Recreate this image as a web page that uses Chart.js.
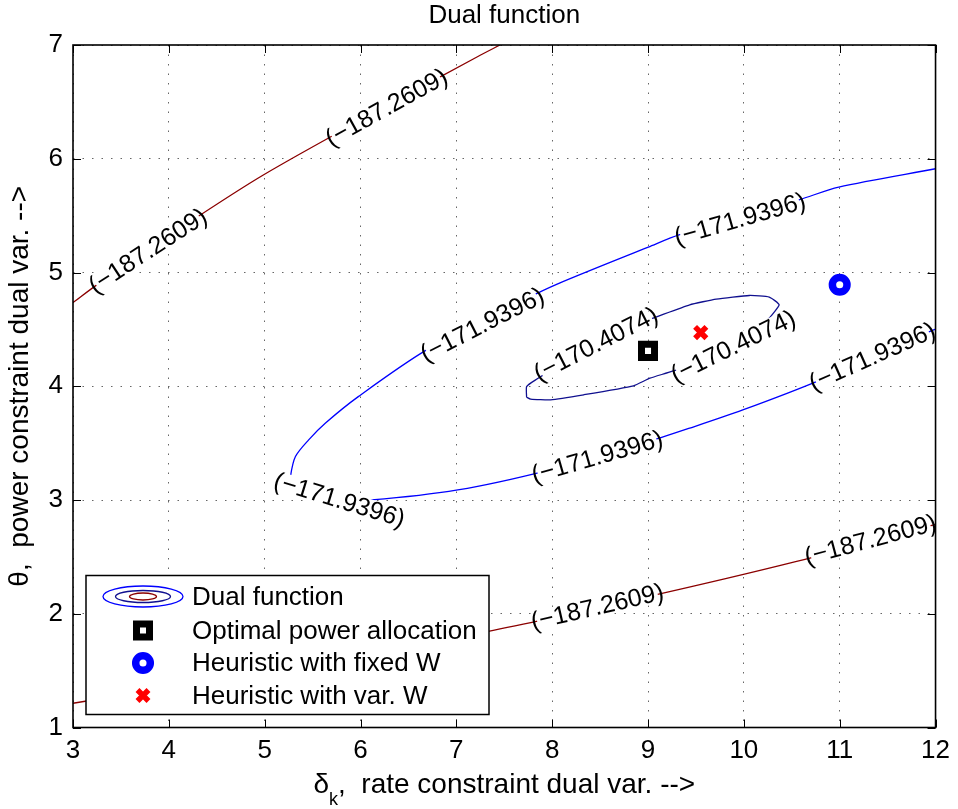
<!DOCTYPE html>
<html>
<head>
<meta charset="utf-8">
<title>Dual function</title>
<script src="https://cdn.jsdelivr.net/npm/chart.js@4.4.0/dist/chart.umd.min.js"></script>
<style>
body{margin:0;background:#fff;}
#wrap{width:958px;height:809px;}
</style>
</head>
<body>
<div id="wrap"><canvas id="dualChart" width="958" height="809"></canvas></div>
<script>
const FONT = '"Liberation Sans", Arial, Helvetica, sans-serif';

const xTicks = [3, 4, 5, 6, 7, 8, 9, 10, 11, 12];
const yTicks = [1, 2, 3, 4, 5, 6, 7];

/* contour level -187.2609 : upper and lower branch */
const upperX = [3.00, 3.26, 4.11, 4.99, 6.26, 7.22, 7.46];
const upperY = [4.736, 4.898, 5.384, 5.859, 6.457, 6.897, 7.002];
const lowerX = [3.00, 5.15, 7.32, 8.985, 10.54, 12.0];
const lowerY = [1.213, 1.515, 1.843, 2.148, 2.458, 2.785];

/* contour level -171.9396 (open curve, both ends on the right border) */
const outerX = [12.00, 10.99, 10.576, 9.331, 9.003, 8.052, 7.706, 6.703, 5.977, 5.632, 5.459, 5.321, 5.269, 5.272, 5.407, 5.666, 6.115, 7.015, 7.948, 8.951, 9.435, 9.989, 10.783, 11.648, 12.00];
const outerY = [5.912, 5.751, 5.639, 5.332, 5.223, 4.898, 4.760, 4.326, 3.909, 3.675, 3.529, 3.382, 3.206, 3.115, 3.027, 2.996, 3.001, 3.089, 3.259, 3.500, 3.632, 3.792, 4.050, 4.379, 4.502];

/* contour level -170.4074 (closed) */
const innerX = [7.733, 7.733, 7.827, 8.674, 9.020, 9.435, 9.712, 10.057, 10.265, 10.368, 10.265, 10.127, 9.349, 9.020, 8.848, 8.329, 7.983, 7.775, 7.733];
const innerY = [3.904, 3.997, 4.056, 4.496, 4.590, 4.716, 4.766, 4.798, 4.784, 4.716, 4.599, 4.496, 4.159, 4.071, 4.004, 3.925, 3.881, 3.887, 3.904];

/* markers */
const optimalPt = [9.0, 4.311];
const fixedWPt = [11.0, 4.892];
const varWPt = [9.55, 4.472];

/* contour labels */
const levelText = ['(\u2212187.2609)', '(\u2212171.9396)', '(\u2212170.4074)'];
const labelX = [3.78, 6.27, 8.47, 11.32, 9.96, 7.27, 5.78, 8.47, 11.34, 8.456, 9.888];
const labelY = [5.19, 6.45, 2.06, 2.65, 5.47, 4.54, 3.00, 3.38, 4.26, 4.37, 4.35];
const labelAngle = [-33, -29, -13, -15, -16, -27, 17, -16, -24, -27, -26];
const labelLevel = [0, 0, 0, 0, 1, 1, 1, 1, 1, 2, 2];

const xTitleParts = ['\u03b4', 'k', ',  rate constraint dual var. -->'];

function pts(xs, ys) {
  return xs.map((x, i) => ({x: x, y: ys[i]}));
}

const BROWN = '#8B0000';
const BLUE = '#0000FF';
const NAVY = '#10108F';

/* draw contour labels right after the contour lines, before markers */
const contourLabels = {
  id: 'contourLabels',
  afterDatasetDraw(chart, args) {
    if (args.index !== 3) return;
    const ctx = chart.ctx, a = chart.chartArea;
    const xs = chart.scales.x, ys = chart.scales.y;
    ctx.save();
    ctx.beginPath();
    ctx.rect(a.left, a.top, a.right - a.left, a.bottom - a.top);
    ctx.clip();
    ctx.font = '25px ' + FONT;
    labelX.forEach((lx, i) => {
      const px = xs.getPixelForValue(lx);
      const py = ys.getPixelForValue(labelY[i]);
      const txt = levelText[labelLevel[i]];
      const w = ctx.measureText(txt).width;
      ctx.save();
      ctx.translate(px, py);
      ctx.rotate(labelAngle[i] * Math.PI / 180);
      ctx.fillStyle = '#fff';
      ctx.fillRect(-w / 2 + 6, -10, w - 12, 20);
      ctx.fillStyle = '#000';
      ctx.textAlign = 'center';
      ctx.textBaseline = 'middle';
      ctx.fillText(txt, 0, 1);
      ctx.restore();
    });
    ctx.restore();
  }
};

/* box around axes with inward ticks */
const axesBox = {
  id: 'axesBox',
  afterDraw(chart) {
    const ctx = chart.ctx, a = chart.chartArea;
    const xs = chart.scales.x, ys = chart.scales.y;
    ctx.save();
    ctx.strokeStyle = '#000';
    ctx.lineWidth = 1;
    ctx.beginPath();
    xTicks.forEach(t => {
      const p = Math.round(xs.getPixelForValue(t)) + 0.5;
      ctx.moveTo(p, a.bottom); ctx.lineTo(p, a.bottom - 8);
      ctx.moveTo(p, a.top); ctx.lineTo(p, a.top + 8);
    });
    yTicks.forEach(t => {
      const p = Math.round(ys.getPixelForValue(t)) + 0.5;
      ctx.moveTo(a.left, p); ctx.lineTo(a.left + 8, p);
      ctx.moveTo(a.right, p); ctx.lineTo(a.right - 8, p);
    });
    ctx.stroke();
    ctx.lineWidth = 1.6;
    ctx.strokeRect(a.left, a.top, a.right - a.left, a.bottom - a.top);
    ctx.restore();
  }
};

/* legend box in the lower left of the axes */
const legendBox = {
  id: 'legendBox',
  afterDraw(chart) {
    const ctx = chart.ctx, a = chart.chartArea;
    const ds = chart.data.datasets;
    const left = a.left + 13, top = a.bottom - 152, w = 403, h = 139;
    ctx.save();
    ctx.fillStyle = '#fff';
    ctx.fillRect(left, top, w, h);
    ctx.strokeStyle = '#000';
    ctx.lineWidth = 1.5;
    ctx.strokeRect(left, top, w, h);

    const ix = left + 57;
    const rows = [top + 21, top + 55, top + 87.5, top + 120];
    // contour icon
    ctx.lineWidth = 1.3;
    [[40, 10.5, BLUE], [27.5, 6, NAVY], [13.5, 3.5, BROWN]].forEach(e => {
      ctx.strokeStyle = e[2];
      ctx.beginPath();
      ctx.ellipse(ix, rows[0], e[0], e[1], 0, 0, Math.PI * 2);
      ctx.stroke();
    });
    // square
    ctx.fillStyle = '#000';
    ctx.fillRect(ix - 10, rows[1] - 10, 20, 20);
    ctx.fillStyle = '#fff';
    ctx.fillRect(ix - 3, rows[1] - 3, 6, 6);
    // ring
    ctx.strokeStyle = BLUE;
    ctx.lineWidth = 7.5;
    ctx.beginPath();
    ctx.arc(ix, rows[2], 7.3, 0, Math.PI * 2);
    ctx.stroke();
    // cross
    ctx.strokeStyle = '#FF0000';
    ctx.lineWidth = 5.5;
    ctx.beginPath();
    ctx.moveTo(ix - 5.5, rows[3] - 5.5); ctx.lineTo(ix + 5.5, rows[3] + 5.5);
    ctx.moveTo(ix + 5.5, rows[3] - 5.5); ctx.lineTo(ix - 5.5, rows[3] + 5.5);
    ctx.stroke();

    ctx.fillStyle = '#000';
    ctx.font = '26px ' + FONT;
    ctx.textBaseline = 'middle';
    const names = [ds[3].label, ds[0].label, ds[1].label, ds[2].label];
    names.forEach((n, i) => ctx.fillText(n, left + 106, rows[i] + 1));
    ctx.restore();
  }
};

/* x axis title with subscript k */
const xTitle = {
  id: 'xTitle',
  afterDraw(chart) {
    const ctx = chart.ctx, a = chart.chartArea;
    const big = '28px ' + FONT, small = '18px ' + FONT;
    ctx.save();
    ctx.fillStyle = '#000';
    ctx.textBaseline = 'alphabetic';
    ctx.font = big;
    const w1 = ctx.measureText(xTitleParts[0]).width;
    const w3 = ctx.measureText(xTitleParts[2]).width;
    ctx.font = small;
    const w2 = ctx.measureText(xTitleParts[1]).width;
    let x = (a.left + a.right) / 2 - (w1 + w2 + w3) / 2;
    const base = chart.height - 16;
    ctx.font = big;
    ctx.fillText(xTitleParts[0], x, base);
    x += w1;
    ctx.font = small;
    ctx.fillText(xTitleParts[1], x, base + 12);
    x += w2;
    ctx.font = big;
    ctx.fillText(xTitleParts[2], x, base);
    ctx.restore();
  }
};

const gridStyle = {
  color: 'rgba(0,0,0,0.6)',
  lineWidth: 1,
  drawTicks: false
};

new Chart(document.getElementById('dualChart'), {
  type: 'scatter',
  data: {
    datasets: [
      {
        label: 'Optimal power allocation',
        data: [{x: optimalPt[0], y: optimalPt[1]}],
        pointStyle: 'rect',
        pointRadius: 9.2,
        pointBorderWidth: 7,
        pointBackgroundColor: '#fff',
        pointBorderColor: '#000'
      },
      {
        label: 'Heuristic with fixed W',
        data: [{x: fixedWPt[0], y: fixedWPt[1]}],
        pointStyle: 'circle',
        pointRadius: 7.3,
        pointBorderWidth: 7.5,
        pointBackgroundColor: '#fff',
        pointBorderColor: BLUE
      },
      {
        label: 'Heuristic with var. W',
        data: [{x: varWPt[0], y: varWPt[1]}],
        pointStyle: 'crossRot',
        pointRadius: 8,
        pointBorderWidth: 5.5,
        pointBorderColor: '#FF0000'
      },
      {
        label: 'Dual function',
        data: pts(innerX, innerY),
        showLine: true, pointRadius: 0, borderWidth: 1.3, tension: 0.15,
        borderColor: NAVY
      },
      {
        data: pts(outerX, outerY),
        showLine: true, pointRadius: 0, borderWidth: 1.3, tension: 0.3,
        borderColor: BLUE
      },
      {
        data: pts(upperX, upperY),
        showLine: true, pointRadius: 0, borderWidth: 1.3, tension: 0.3,
        borderColor: BROWN
      },
      {
        data: pts(lowerX, lowerY),
        showLine: true, pointRadius: 0, borderWidth: 1.3, tension: 0.3,
        borderColor: BROWN
      }
    ]
  },
  options: {
    responsive: false,
    animation: false,
    layout: {padding: {top: 0, right: 18, bottom: 0, left: 0}},
    plugins: {
      legend: {display: false},
      tooltip: {enabled: false},
      title: {
        display: true,
        text: 'Dual function',
        fullSize: false,
        color: '#000',
        font: {family: FONT, size: 26, weight: 'normal'},
        padding: {top: 0, bottom: 13.8}
      }
    },
    scales: {
      x: {
        type: 'linear',
        min: 3, max: 12,
        afterFit: s => { s.height = 81.5; },
        afterBuildTicks: s => { s.ticks = xTicks.map(v => ({value: v})); },
        ticks: {color: '#000', padding: 8, font: {family: FONT, size: 26}},
        grid: gridStyle,
        border: {display: false, dash: [1.5, 8]}
      },
      y: {
        type: 'linear',
        min: 1, max: 7,
        afterFit: s => { s.width = 73; },
        afterBuildTicks: s => { s.ticks = yTicks.map(v => ({value: v})); },
        ticks: {color: '#000', padding: 10, font: {family: FONT, size: 26}},
        grid: gridStyle,
        border: {display: false, dash: [1.5, 8]},
        title: {
          display: true,
          text: '\u03b8,  power constraint dual var. -->',
          color: '#000',
          font: {family: FONT, size: 28},
          padding: {top: 3, bottom: 0}
        }
      }
    }
  },
  plugins: [contourLabels, axesBox, legendBox, xTitle]
});
</script>
</body>
</html>
